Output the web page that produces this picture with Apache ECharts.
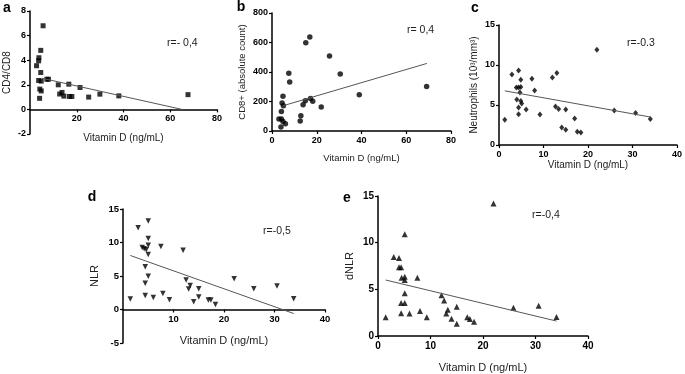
<!DOCTYPE html>
<html><head><meta charset="utf-8">
<script src="https://cdn.jsdelivr.net/npm/echarts@6/dist/echarts.min.js"></script>
<style>html,body{margin:0;padding:0;background:#fff}#wrap{position:relative;width:685px;height:374px}.layer{position:absolute;left:0;top:0;width:685px;height:374px}</style>
</head><body><div id="wrap"><div id="c1" class="layer"></div><div id="c2" class="layer"></div></div>
<script>
// Panel a: CD4/CD8 vs Vitamin D
const aVitD = [2.8, 3.7, 3.8, 4.6, 5.6, 4.6, 3.7, 4.8, 4.2, 4.8, 4.1, 7.2, 7.9, 12.1, 16.6, 12.7, 13.7, 14.5, 16.9, 17.9, 21.4, 25.1, 29.9, 38.0, 67.6];
const aRatio = [3.55, 3.95, 4.2, 4.8, 6.8, 3.0, 2.35, 2.3, 1.65, 1.5, 0.9, 2.45, 2.45, 2.0, 2.05, 1.25, 1.38, 1.08, 1.05, 1.05, 1.78, 1.0, 1.24, 1.1, 1.2];
const aFitX = [5, 65], aFitY = [2.54, 0];
// Panel b: CD8+ absolute count
const bVitD = [15.1, 16.9, 25.7, 30.5, 7.5, 7.9, 39.0, 69.1, 4.9, 4.5, 5.1, 4.2, 3.1, 4.2, 4.9, 6.0, 4.0, 12.9, 12.6, 13.9, 14.9, 17.2, 18.2, 22.0];
const bCD8 = [598, 638, 508, 387, 391, 333, 245, 301, 236, 189, 171, 133, 81, 81, 65, 49, 27, 103, 67, 178, 205, 220, 202, 162];
const bFitX = [4.9, 69.2], bFitY = [171, 458];
// Panel c: Neutrophils
const cVitD = [1.3, 2.9, 4.4, 4.9, 3.9, 4.4, 4.9, 7.4, 8.0, 12.0, 13.0, 22.0, 4.0, 4.9, 4.7, 5.1, 4.4, 4.4, 6.1, 9.2, 12.7, 13.4, 15.0, 14.1, 15.0, 17.0, 17.6, 18.4, 25.9, 30.7, 34.0];
const cNeut = [3.15, 8.8, 9.3, 8.15, 7.2, 7.2, 7.25, 8.27, 6.8, 8.43, 9.0, 11.9, 5.7, 5.5, 6.55, 5.2, 4.7, 3.85, 4.45, 3.8, 4.8, 4.5, 4.45, 2.2, 1.9, 3.3, 1.65, 1.55, 4.3, 4.0, 3.25];
const cFitX = [1.3, 34], cFitY = [6.77, 3.5];
// Panel d: NLR
const dVitD = [1.45, 3.0, 5.0, 5.0, 5.0, 3.8, 4.2, 4.6, 5.0, 7.5, 11.9, 4.4, 5.0, 4.4, 4.4, 6.0, 7.9, 9.2, 12.5, 13.0, 13.3, 14.0, 15.0, 15.0, 16.9, 17.4, 18.3, 22.0, 25.9, 30.5, 33.8];
const dNLR = [1.55, 12.2, 13.2, 10.6, 9.6, 9.25, 9.05, 8.9, 8.2, 9.4, 8.85, 6.37, 4.98, 3.9, 2.1, 1.8, 2.4, 1.45, 4.4, 3.05, 3.6, 1.15, 3.1, 1.85, 1.4, 1.4, 0.75, 4.6, 3.1, 3.5, 1.6];
const dFitX = [1.45, 33.8], dFitY = [8.06, -0.6];
// Panel e: dNLR
const eVitD = [1.46, 3.0, 4.0, 4.0, 4.4, 5.1, 4.5, 5.1, 5.1, 7.5, 5.1, 4.4, 5.1, 4.4, 6.0, 8.0, 9.3, 12.1, 12.6, 13.3, 13.0, 14.0, 15.0, 15.0, 17.0, 17.5, 18.3, 22.0, 25.8, 30.6, 34.0];
const eDNLR = [2.0, 8.46, 8.36, 7.36, 7.36, 10.9, 6.25, 6.35, 6.0, 6.25, 4.57, 3.54, 3.54, 2.43, 2.4, 2.68, 2.0, 4.36, 3.8, 2.8, 2.4, 1.86, 3.14, 1.32, 2.0, 1.82, 1.54, 14.2, 3.04, 3.25, 2.04];
const eFitX = [1.46, 34], eFitY = [6.0, 1.6];

const xTitle = 'Vitamin D (ng/mL)';
const yTitles = ['CD4/CD8', 'CD8+ (absolute count)', 'Neutrophils (10³/mm³)', 'NLR', 'dNLR'];
const panelLetters = ['a', 'b', 'c', 'd', 'e'];
const rLabels = ['r=- 0,4', 'r= 0,4', 'r=-0.3', 'r=-0,5', 'r=-0,4'];

const FONT = 'Liberation Sans, Arial, sans-serif';
const zip = (xs, ys) => xs.map((x, i) => [x, ys[i]]);

const panels = [
  {grid: {left: 30, top: 11, width: 187, height: 123}, x: [0, 80, 20], y: [-2, 8, 2], hide0: true, xs: aVitD, ys: aRatio, fx: aFitX, fy: aFitY, sym: 'rect', size: 5, rot: 0, fs: 9, nfs: 10, xGap: 24, yGap: 18,
   letter: [7, 8], r: [167, 43]},
  {grid: {left: 272, top: 13, width: 179, height: 118}, x: [0, 80, 20], y: [0, 800, 200], hide0: false, xs: bVitD, ys: bCD8, fx: bFitX, fy: bFitY, sym: 'circle', size: 5.5, rot: 0, fs: 9, nfs: 9.5, xGap: 22, yGap: 25,
   letter: [241, 7], r: [407, 30]},
  {grid: {left: 499, top: 25, width: 180, height: 120}, x: [0, 40, 10], y: [0, 15, 5], hide0: false, xs: cVitD, ys: cNeut, fx: cFitX, fy: cFitY, sym: 'diamond', size: [5, 6], rot: 0, fs: 9, nfs: 10, xGap: 15, yGap: 20,
   letter: [475, 8], r: [627, 43]},
  {grid: {left: 123, top: 209, width: 202, height: 134}, x: [0, 40, 10], y: [-5, 15, 5], hide0: true, xs: dVitD, ys: dNLR, fx: dFitX, fy: dFitY, sym: 'triangle', size: 5.5, rot: 180, fs: 9.5, nfs: 11, xGap: 26, yGap: 23,
   letter: [92, 197], r: [263, 231]},
  {grid: {left: 378, top: 196, width: 210, height: 140}, x: [0, 40, 10], y: [0, 15, 5], hide0: false, xs: eVitD, ys: eDNLR, fx: eFitX, fy: eFitY, sym: 'triangle', size: 6, rot: 0, fs: 10, nfs: 11, xGap: 26, yGap: 23,
   letter: [347, 198], r: [532, 215]}
];

const lineStyleAxis = {color: '#000', width: 1.5};
const axisTick = {show: true, length: 3, lineStyle: {color: '#000', width: 1.2}};

function buildOption(indices, withGraphic) {
  const grids = [], xAxes = [], yAxes = [], series = [], graphic = [];
  indices.forEach(i => {
    const p = panels[i];
    const split = p.y[0] < 0;
    const g = p.grid;
    const pxPerUnit = g.height / (p.y[1] - p.y[0]);
    // data grid: its x axis sits at y = 0
    const dataGridIndex = grids.length;
    grids.push({left: g.left, top: g.top, width: g.width, height: split ? p.y[1] * pxPerUnit : g.height});
    const xLabel = {color: '#000', fontFamily: FONT, fontWeight: 'bold', fontSize: p.fs, margin: 5, showMinLabel: !p.hide0};
    const yLabel = {color: '#000', fontFamily: FONT, fontWeight: 'bold', fontSize: p.fs, margin: 4, showMinLabel: true};
    const xi = xAxes.length;
    xAxes.push({
      type: 'value', gridIndex: dataGridIndex, min: p.x[0], max: p.x[1], interval: p.x[2],
      axisLine: {show: true, onZero: false, lineStyle: lineStyleAxis}, axisTick, splitLine: {show: false},
      axisLabel: xLabel,
      name: xTitle, nameLocation: 'middle', nameGap: p.xGap,
      nameTextStyle: {color: '#222', fontFamily: FONT, fontSize: p.nfs}
    });
    const yi = yAxes.length;
    const yName = {name: yTitles[i], nameLocation: 'middle', nameGap: p.yGap, nameTextStyle: {color: '#222', fontFamily: FONT, fontSize: p.nfs}};
    if (split) {
      yAxes.push({type: 'value', gridIndex: dataGridIndex, min: 0, max: p.y[1], interval: p.y[2],
        axisLine: {show: false}, axisTick: {show: false}, axisLabel: {show: false}, splitLine: {show: false}});
      const axGrid = grids.length;
      grids.push({left: g.left, top: g.top, width: g.width, height: g.height});
      xAxes.push({type: 'value', gridIndex: axGrid, min: p.x[0], max: p.x[1], interval: p.x[2],
        axisLine: {show: false}, axisTick: {show: false}, axisLabel: {show: false}, splitLine: {show: false}});
      yAxes.push(Object.assign({
        type: 'value', gridIndex: axGrid, min: p.y[0], max: p.y[1], interval: p.y[2],
        axisLine: {show: true, onZero: false, lineStyle: lineStyleAxis}, axisTick, splitLine: {show: false},
        axisLabel: yLabel
      }, yName));
    } else {
      yAxes.push(Object.assign({
        type: 'value', gridIndex: dataGridIndex, min: p.y[0], max: p.y[1], interval: p.y[2],
        axisLine: {show: true, onZero: false, lineStyle: lineStyleAxis}, axisTick, splitLine: {show: false},
        axisLabel: yLabel
      }, yName));
    }
    series.push(
      {type: 'scatter', xAxisIndex: xi, yAxisIndex: yi, data: zip(p.xs, p.ys), symbol: p.sym, symbolSize: p.size, symbolRotate: p.rot,
       itemStyle: {color: '#000'}, clip: false},
      {type: 'line', xAxisIndex: xi, yAxisIndex: yi, data: zip(p.fx, p.fy), symbol: 'none',
       lineStyle: {color: '#555', width: 1}, clip: false}
    );
  });
  if (withGraphic) {
    panels.forEach((p, i) => {
      graphic.push(
        {type: 'text', x: p.letter[0], y: p.letter[1], style: {text: panelLetters[i], fill: '#000', font: 'bold 14px ' + FONT, textAlign: 'center', textVerticalAlign: 'middle'}},
        {type: 'text', x: p.r[0], y: p.r[1], style: {text: rLabels[i], fill: '#222', font: '10.5px ' + FONT, textAlign: 'left', textVerticalAlign: 'middle'}}
      );
    });
  }
  const opt = {animation: false, grid: grids, xAxis: xAxes, yAxis: yAxes, series};
  if (withGraphic) opt.graphic = graphic;
  return opt;
}

// layer 1: panels a and d (x axis on the zero line), layer 2: panels b, c, e plus letters and r values
const chart1 = echarts.init(document.getElementById('c1'));
chart1.setOption(buildOption([0, 3], false));
const chart2 = echarts.init(document.getElementById('c2'));
chart2.setOption(buildOption([1, 2, 4], true));
</script>
</body></html>
